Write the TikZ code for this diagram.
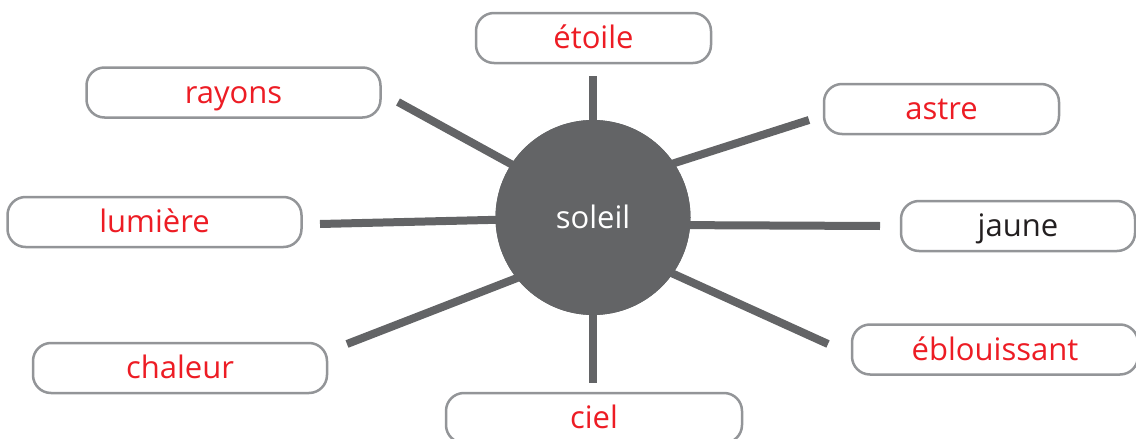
\documentclass[tikz,border=0pt]{standalone}
\usepackage{fontspec}
\setmainfont{Open Sans}
\definecolor{boxgray}{HTML}{939598}
\definecolor{sungray}{HTML}{636466}
\definecolor{wred}{HTML}{ED1C24}
\definecolor{wblack}{HTML}{231F20}
\begin{document}
\begin{tikzpicture}[x=1pt,y=-1pt,
  word/.style={draw=boxgray, line width=2.5pt, rounded corners=18pt, fill=white,
    minimum width=#1, minimum height=50pt, inner sep=0pt, text=wred,
    text height=25pt, text depth=4pt,
    font=\fontsize{31}{34}\selectfont},
  word/.default=294pt,
  ray/.style={draw=sungray, line width=8pt},
  sun/.style={circle, fill=sungray, minimum size=195pt, inner sep=0pt,
    text height=25pt, text depth=4pt,
    text=white, font=\fontsize{31}{34}\selectfont}]
\useasboundingbox (0,0) rectangle (1136,439);
\begin{scope}
\clip (0,0) rectangle (1136,439);
% connector ends (outer)
\coordinate (eE) at (593,76);
\coordinate (eR) at (398,102);
\coordinate (eA) at (809,120);
\coordinate (eL) at (320,224);
\coordinate (eJ) at (880,226);
\coordinate (eC) at (347,344);
\coordinate (eCi) at (593,383);
\coordinate (eB) at (828,344);
% connector ends (inside the sun)
\coordinate (iE) at (593,140);
\coordinate (iR) at (540,180);
\coordinate (iA) at (645,172.5);
\coordinate (iL) at (530,219);
\coordinate (iJ) at (660,225);
\coordinate (iC) at (548,266);
\coordinate (iCi) at (593,300);
\coordinate (iB) at (645,261);
\node[sun] (S) at (593,217.5) {};
\draw[ray] (iE) -- (eE);
\draw[ray] (iR) -- (eR);
\draw[ray] (iA) -- (eA);
\draw[ray] (iL) -- (eL);
\draw[ray] (iJ) -- (eJ);
\draw[ray] (iC) -- (eC);
\draw[ray] (iCi) -- (eCi);
\draw[ray] (iB) -- (eB);
\node[sun] (S2) at (593,217.5) {soleil};
\node[word=235pt] (etoile) at (593.5,38) {étoile};
\node[word] (rayons) at (233.5,92.5) {rayons};
\node[word=235pt] (astre) at (941.5,109) {astre};
\node[word] (lumiere) at (154.5,222) {lumière};
\node[word=234pt, text=wblack] (jaune) at (1018,226) {jaune};
\node[word] (chaleur) at (180,368) {chaleur};
\node[word=296pt] (ciel) at (594,418) {ciel};
\node[word=286pt] (eblouissant) at (995,349.5) {éblouissant};
\end{scope}
\end{tikzpicture}
\end{document}
